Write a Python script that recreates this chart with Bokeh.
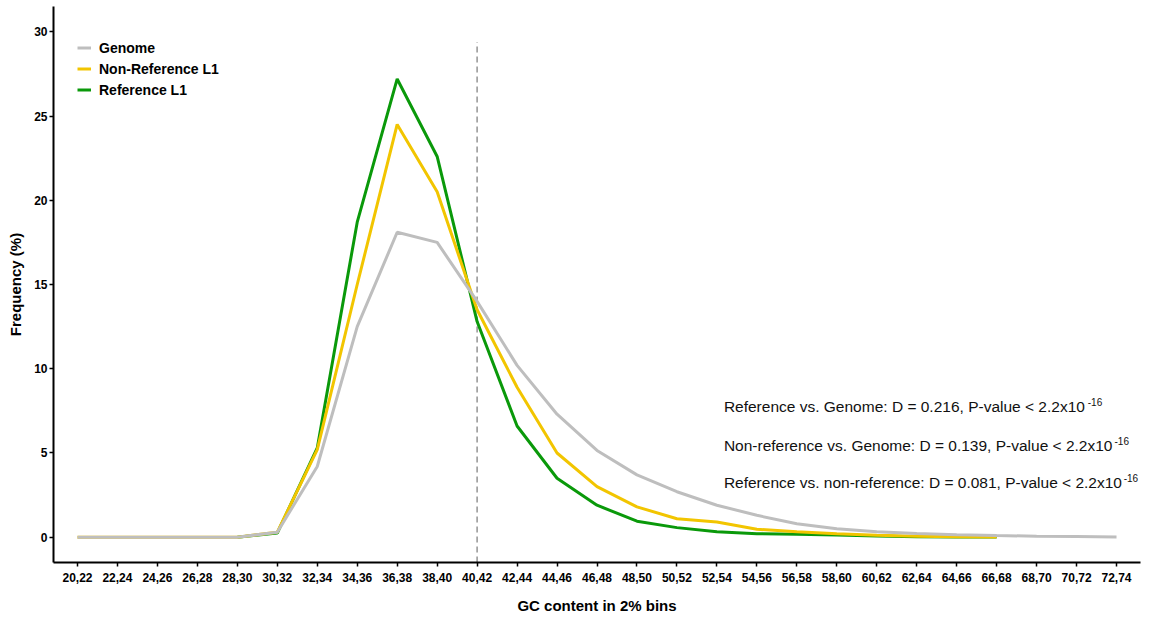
from bokeh.plotting import figure
from bokeh.models import (ColumnDataSource, Range1d, FixedTicker, Legend, LegendItem)
from bokeh.embed import file_html
from bokeh.resources import INLINE
from bokeh.core.properties import value

# GC-content bins (2% wide)
bins = ["20,22", "22,24", "24,26", "26,28", "28,30", "30,32", "32,34", "34,36", "36,38",
        "38,40", "40,42", "42,44", "44,46", "46,48", "48,50", "50,52", "52,54", "54,56",
        "56,58", "58,60", "60,62", "62,64", "64,66", "66,68", "68,70", "70,72", "72,74"]

# Frequency (%) per bin
genome = [0, 0, 0, 0, 0, 0.3, 4.2, 12.5, 18.1, 17.5, 14.0, 10.2, 7.3, 5.15, 3.7, 2.7,
          1.9, 1.3, 0.8, 0.5, 0.33, 0.22, 0.15, 0.1, 0.06, 0.04, 0.02]
non_reference = [0, 0, 0, 0, 0, 0.3, 5.2, 15.0, 24.5, 20.5, 13.5, 8.9, 5.0, 3.0, 1.8, 1.1,
                 0.9, 0.47, 0.33, 0.2, 0.12, 0.06, 0.03, 0.01]
reference = [0, 0.25, 5.3, 18.7, 27.2, 22.6, 12.8, 6.6, 3.5, 1.9, 0.95, 0.57, 0.33, 0.21,
             0.18, 0.13, 0.08, 0.03, 0.02, 0.01]
reference_start = 4  # first bin of the reference L1 series

mean_gc_bin = "40,42"

stats = ["Reference vs. Genome: D = 0.216, P-value < 2.2x10",
         "Non-reference vs. Genome: D = 0.139, P-value < 2.2x10",
         "Reference vs. non-reference: D = 0.081, P-value < 2.2x10"]
exponent = "-16"

FONT = "Liberation Sans"

idx = list(range(len(bins)))
src_g = ColumnDataSource(dict(x=idx[:len(genome)], y=genome))
src_n = ColumnDataSource(dict(x=idx[:len(non_reference)], y=non_reference))
src_r = ColumnDataSource(dict(x=idx[reference_start:reference_start + len(reference)], y=reference))

p = figure(width=1157, height=617, output_backend="svg", toolbar_location=None,
           x_range=Range1d(-0.6, len(bins) - 0.4), y_range=Range1d(-1.5, 31.5),
           min_border_left=53, min_border_right=17, min_border_top=6, min_border_bottom=55)
p.outline_line_color = None
p.xgrid.visible = False
p.ygrid.visible = False
p.background_fill_color = "white"

# dashed marker at the genome-average GC bin
p.segment(x0=[bins.index(mean_gc_bin)], y0=[-1.5], x1=[bins.index(mean_gc_bin)], y1=[29.4],
          line_color="#9a9a9a", line_width=1.6, line_dash="6 4")

r_ref = p.line("x", "y", source=src_r, line_color="#0A990A", line_width=3)
r_non = p.line("x", "y", source=src_n, line_color="#F2C500", line_width=3)
r_gen = p.line("x", "y", source=src_g, line_color="#BEBEBE", line_width=3)

legend = Legend(items=[LegendItem(label="Genome", renderers=[r_gen]),
                       LegendItem(label="Non-Reference L1", renderers=[r_non]),
                       LegendItem(label="Reference L1", renderers=[r_ref])],
                location=(24, 462), border_line_color=None, background_fill_alpha=0,
                padding=6, spacing=0, margin=0,
                glyph_width=14, glyph_height=21, label_height=21, label_standoff=8,
                label_text_font=FONT, label_text_font_style="bold",
                label_text_font_size="14px", label_text_color="black")
p.add_layout(legend)

# axes
p.xaxis.ticker = FixedTicker(ticks=idx)
p.xaxis.major_label_overrides = {i: b for i, b in enumerate(bins)}
p.yaxis.ticker = FixedTicker(ticks=[0, 5, 10, 15, 20, 25, 30])
for ax in (p.xaxis, p.yaxis):
    ax.axis_line_width = 2
    ax.axis_line_color = "black"
    ax.major_tick_line_color = "black"
    ax.major_tick_line_width = 1.5
    ax.major_tick_out = 4
    ax.major_tick_in = 0
    ax.minor_tick_line_color = None
    ax.major_label_text_font = FONT
    ax.major_label_text_font_style = "bold"
    ax.major_label_text_font_size = "12px"
    ax.major_label_text_color = "black"
    ax.axis_label_text_font = FONT
    ax.axis_label_text_font_style = "bold"
    ax.axis_label_text_font_size = "15px"
    ax.axis_label_text_color = "black"
p.xaxis.axis_label = "GC content in 2% bins"
p.yaxis.axis_label = "Frequency (%)"
p.xaxis.major_label_standoff = 6
p.xaxis.axis_label_standoff = 12
p.yaxis.major_label_standoff = 2
p.yaxis.axis_label_standoff = 7

# Kolmogorov-Smirnov results
stat_x = 16.175
stat_y = [7.75, 5.43, 3.24]
sup_x = [25.28, 25.95, 26.18]
p.text(x=[stat_x] * 3, y=stat_y, text=stats, text_font=value(FONT), text_font_size="15.5px",
       text_color="#111111", text_baseline="middle", text_align="left")
p.text(x=sup_x, y=[v + 0.27 for v in stat_y], text=[exponent] * 3, text_font=value(FONT),
       text_font_size="10px", text_color="#111111", text_baseline="middle", text_align="left")

open("out.html", "w").write(file_html(p, INLINE))
